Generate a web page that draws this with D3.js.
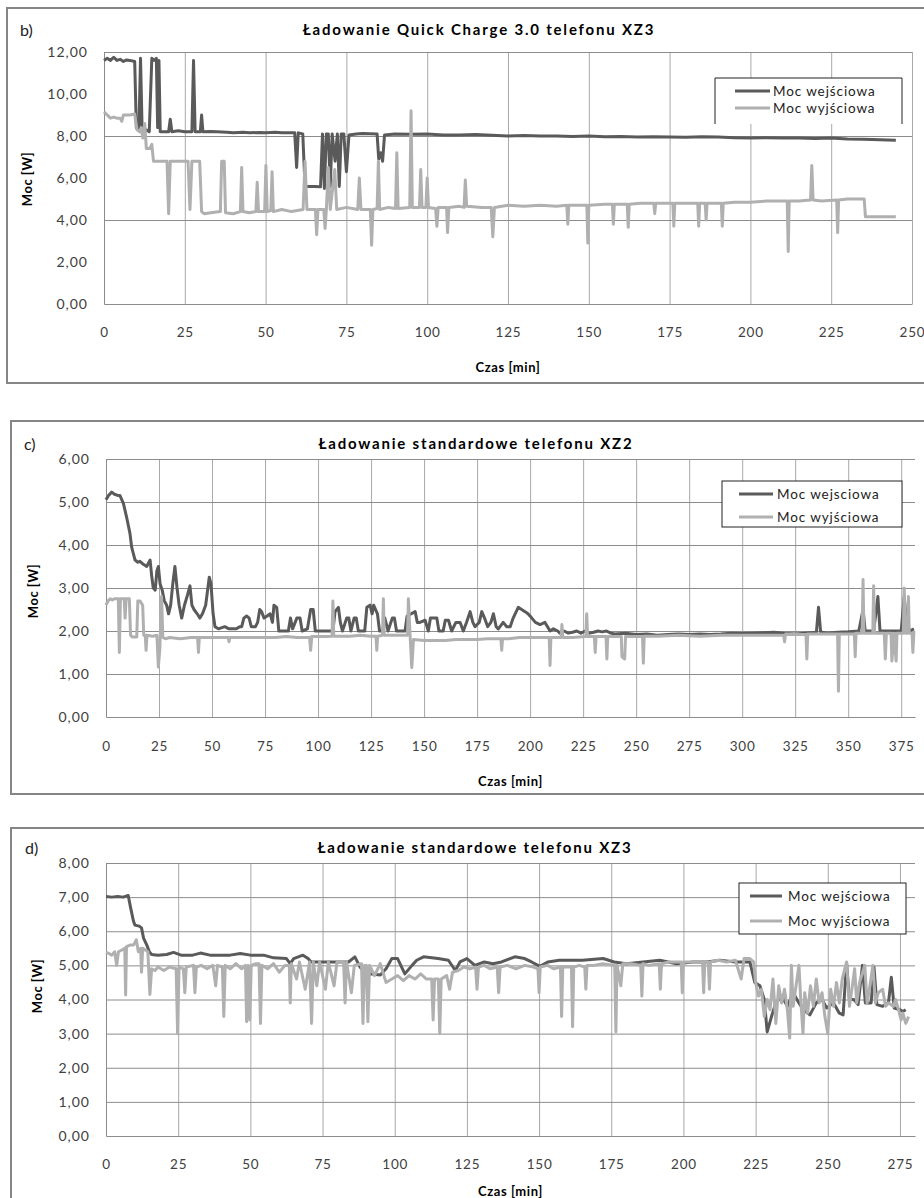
<!DOCTYPE html>
<html>
<head>
<meta charset="utf-8">
<script src="https://cdn.jsdelivr.net/npm/d3@7"></script>
<style>
  body { margin: 0; background: #fff; }
  svg { display: block; font-family: Lato, "Open Sans", sans-serif; }
</style>
</head>
<body>
<div id="chart"></div>
<script>
// Panel titles and legend labels
const titles = ["Ładowanie Quick Charge 3.0 telefonu XZ3",
                "Ładowanie standardowe telefonu XZ2",
                "Ładowanie standardowe telefonu XZ3"];
const letters = ["b)", "c)", "d)"];
const legendB = ["Moc wejściowa", "Moc wyjściowa"];
const legendC = ["Moc wejsciowa", "Moc wyjściowa"];
const legendD = ["Moc wejściowa", "Moc wyjściowa"];

// x ticks (min) and y ticks (W)
const bXTicks = [0, 25, 50, 75, 100, 125, 150, 175, 200, 225, 250];
const cXTicks = [0, 25, 50, 75, 100, 125, 150, 175, 200, 225, 250, 275, 300, 325, 350, 375];
const dXTicks = [0, 25, 50, 75, 100, 125, 150, 175, 200, 225, 250, 275];
const bYTicks = [0, 2, 4, 6, 8, 10, 12];
const cYTicks = [0, 1, 2, 3, 4, 5, 6];
const dYTicks = [0, 1, 2, 3, 4, 5, 6, 7, 8];

// b) Quick Charge XZ3 - [time min, power W]
const bIn = [[0,11.6],[1,11.7],[2,11.6],[3,11.75],[4,11.6],[5,11.65],[6,11.55],[7,11.62],[8,11.6],[9.5,11.55],[10,8.4],[10.8,8.3],[11.3,11.7],[11.8,8.3],[12.5,8.2],[13,8.3],[14,8.2],
  [14.8,11.7],[15.5,11.6],[16.2,11.7],[16.6,8.4],[17,11.6],[17.4,8.2],[18,8.2],[20,8.2],[20.5,8.8],[21,8.2],[23,8.25],[25,8.2],[27.2,8.2],[27.7,11.6],[28.2,8.2],[29.8,8.2],[30.2,9.0],[30.6,8.2],
  [33,8.22],[35,8.2],[38,8.18],[40,8.15],[43,8.18],[45,8.15],[48,8.17],[50,8.15],[53,8.18],[55,8.15],[59,8.15],[59.6,6.5],[60.1,8.15],[61.5,8.1],[62.2,5.6],[65,5.6],[67,5.58],
  [67.6,8.1],[68.2,5.5],[68.8,8.1],[69.4,8.1],[70,5.6],[70.6,8.1],[71.5,6.8],[72.2,8.1],[72.8,5.6],[73.4,8.1],[74.2,8.1],[75,6.3],[75.8,8.05],[78,8.1],[80,8.12],[84.5,8.1],
  [85,6.9],[85.6,7.2],[86.2,6.8],[86.8,8.05],[90,8.1],[95,8.08],[100,8.1],[105,8.05],[110,8.05],[115,8.07],[120,8.03],[125,8.0],[130,8.02],[135,8.0],[140,8.0],[145,7.98],
  [150,8.0],[155,7.97],[160,7.98],[165,7.95],[170,7.97],[175,7.95],[180,7.94],[185,7.96],[190,7.95],[195,7.92],[200,7.9],[205,7.92],[210,7.9],[215,7.9],[220,7.88],[225,7.9],
  [230,7.86],[235,7.85],[240,7.82],[245,7.8]];
const bOut = [[0,9.15],[1,9.0],[2,8.85],[3,8.9],[4,8.85],[5,8.85],[5.5,8.7],[6,9.0],[8,9.0],[9.5,9.05],[10.2,8.3],[11,8.2],[11.5,8.4],[12,7.9],[12.6,8.6],[13.1,7.4],[14.2,7.4],
  [14.8,7.6],[15.3,6.8],[19.5,6.8],[20,4.3],[20.5,6.8],[26,6.8],[26.6,4.5],[27.2,6.8],[29.6,6.8],[30.2,4.4],[31,4.3],[33,4.35],[36,4.4],[36.4,6.8],[37.2,6.8],[37.6,4.35],
  [40,4.3],[42.2,4.4],[42.6,6.5],[43,4.4],[45,4.35],[47,4.4],[47.4,5.8],[47.8,4.4],[49.7,4.4],[50.1,6.6],[50.5,4.4],[51.6,4.45],[52,6.3],[52.4,4.4],[55,4.5],[58,4.4],
  [61.6,4.5],[62.2,6.8],[62.8,4.5],[65.4,4.5],[65.8,3.3],[66.2,4.5],[68,4.5],[68.4,3.6],[68.8,4.5],[69.4,6.5],[70,4.5],[71.4,6.4],[72,4.5],[75,4.6],[78.5,4.5],[79,6.0],
  [79.5,4.5],[82.4,4.5],[82.8,2.8],[83.2,4.5],[84.5,4.55],[84.9,6.8],[85.3,4.5],[88,4.6],[90.2,4.55],[90.6,7.2],[91,4.55],[94.6,4.6],[95,9.2],[95.4,4.6],[97.6,4.6],[98,6.4],
  [98.4,4.6],[99.6,4.6],[100,6.0],[100.4,4.6],[102.6,4.55],[103,3.7],[103.4,4.6],[106,4.6],[106.3,3.4],[106.7,4.6],[110,4.65],[111.4,4.6],[111.8,5.9],[112.2,4.65],[117,4.6],
  [119.8,4.6],[120.3,3.2],[120.8,4.6],[125,4.7],[130,4.65],[135,4.7],[140,4.65],[143.2,4.7],[143.5,3.8],[143.8,4.7],[149.4,4.7],[149.7,2.9],[150,4.7],[155,4.75],[157.3,4.75],
  [157.6,3.8],[157.9,4.75],[161.9,4.75],[162.2,3.65],[162.5,4.75],[166,4.8],[170.1,4.8],[170.4,4.3],[170.7,4.8],[176,4.8],[176.3,3.7],[176.6,4.8],[183.7,4.8],[184,3.7],
  [184.3,4.8],[186,4.8],[186.3,4.0],[186.6,4.8],[191,4.8],[191.3,3.7],[191.6,4.8],[195,4.85],[200,4.85],[205,4.9],[211.4,4.9],[211.7,2.5],[212,4.9],[215,4.9],[218.6,4.95],
  [219,6.6],[219.4,4.95],[222,4.9],[226.7,4.95],[227,3.4],[227.3,4.95],[230,5.0],[235.2,5.0],[235.6,4.15],[240,4.15],[245,4.15]];

// c) standard XZ2
const cIn = [[0,5.05],[1.2,5.15],[2.7,5.23],[4,5.18],[5.8,5.15],[6.6,5.15],[8.2,4.97],[9.7,4.65],[11.3,4.27],[12.1,3.95],[13.7,3.65],[15,3.6],[16,3.62],[17.6,3.55],[19.2,3.5],
  [20.8,3.65],[21.5,3.3],[22.3,3.0],[23.2,2.95],[24,3.4],[24.7,3.5],[25.5,3.1],[26.5,2.95],[27.5,2.7],[28.6,2.6],[29.5,2.4],[30.5,2.6],[31.5,3.1],[32.5,3.5],[33.5,3.0],
  [34.5,2.6],[35.7,2.3],[37,2.6],[38.5,2.85],[39.6,3.05],[40.5,2.6],[41.5,2.5],[43,2.4],[44.3,2.3],[45.5,2.4],[47,2.6],[48.7,3.25],[49.5,3.1],[50.5,2.4],[51.4,2.1],[53,2.05],
  [56,2.1],[58,2.05],[61.5,2.05],[63,2.1],[64,2.1],[65,2.3],[66.3,2.35],[67.5,2.3],[68.5,2.1],[70.5,2.1],[71.5,2.2],[72.5,2.5],[73.4,2.45],[74.5,2.3],[76,2.35],[77.4,2.4],
  [78.5,2.2],[79.2,2.6],[80.5,2.55],[81.5,2.0],[84,2.0],[86,2.0],[87,2.3],[88,2.05],[90,2.3],[91.5,2.3],[92.5,2.0],[95,2.05],[96.5,2.5],[97.7,2.5],[98.7,2.0],[103,2.0],
  [107,2.0],[108,2.45],[109.6,2.55],[110.5,2.2],[111.5,2.0],[113.5,2.3],[114.5,2.3],[115.5,2.0],[117,2.3],[118,2.3],[119,2.0],[122,2.0],[123,2.55],[124.5,2.6],[125.5,2.4],
  [126.2,2.6],[128,2.4],[129,2.0],[130.5,2.0],[131.5,2.3],[133,2.0],[135,2.3],[136,2.3],[137,2.0],[141,2.0],[142,2.35],[145.8,2.45],[146.8,2.2],[148,2.2],[150.5,2.25],
  [152,2.0],[153,2.3],[156,2.3],[157,2.0],[159,2.0],[160,2.25],[161.5,2.25],[163,2.0],[165,2.2],[167,2.2],[168.5,2.0],[170,2.2],[171.7,2.45],[173,2.2],[174,2.1],[176,2.2],
  [177.2,2.45],[178.5,2.3],[180,2.1],[181.5,2.2],[182.7,2.4],[184,2.1],[185,2.05],[187.3,2.2],[189,2.1],[190.6,2.1],[192,2.3],[194.4,2.55],[196,2.5],[197.6,2.45],[199,2.4],
  [200.8,2.3],[202.5,2.2],[204.7,2.15],[207,2.2],[209.4,2.0],[211,2.05],[213,2.0],[214,1.95],[216,2.0],[218,1.95],[220,1.97],[222,2.0],[224,1.95],[226,2.0],[228,1.95],
  [230,1.97],[232,2.0],[234,1.98],[236,2.0],[238,1.95],[240,1.93],[245,1.95],[250,1.92],[255,1.93],[260,1.9],[265,1.92],[270,1.93],[275,1.92],[280,1.93],[285,1.92],
  [290,1.93],[295,1.95],[300,1.94],[305,1.95],[310,1.96],[315,1.97],[320,1.94],[325,1.93],[330,1.95],[335,1.97],[336,2.55],[337,1.98],[340,1.95],[345,1.97],[350,1.98],
  [355,2.0],[357,2.5],[358,2.0],[362,2.0],[364,2.8],[365,2.0],[370,2.0],[375,2.0],[376.4,2.8],[377.5,2.2],[379,2.0],[381,2.05]];
const cOut = [[0,2.6],[1,2.7],[2,2.75],[3,2.72],[4,2.75],[5.8,2.75],[6.3,1.5],[6.8,2.75],[8.6,2.75],[9,2.3],[9.5,2.75],[11,2.75],[11.6,1.9],[12.5,1.86],[14.5,1.86],[15,2.7],
  [16,2.7],[17.3,2.6],[17.8,1.9],[18.5,1.9],[18.9,1.55],[19.3,1.9],[22,1.88],[24,1.9],[24.7,1.16],[25.4,1.6],[26.2,2.8],[26.8,1.85],[28,1.82],[30,1.85],[35,1.82],[40,1.85],
  [43.2,1.85],[43.6,1.5],[44,1.85],[48,1.85],[52,1.85],[57.6,1.85],[58,1.75],[58.4,1.85],[62,1.85],[66,1.85],[70,1.85],[75,1.85],[80,1.85],[85,1.87],[90,1.85],[96,1.85],
  [96.5,1.55],[97,1.87],[100,1.87],[104,1.87],[106.6,1.88],[107,2.7],[107.4,1.88],[110,1.88],[115,1.88],[120,1.9],[125,1.88],[127.3,1.88],[127.7,1.55],[128.1,1.88],[130.4,1.9],
  [130.8,2.75],[131.2,1.9],[135,1.9],[140,1.9],[142.2,1.9],[142.6,2.75],[143.4,1.9],[144.2,1.15],[145,1.8],[150,1.78],[155,1.78],[160,1.78],[165,1.8],[170,1.8],[175,1.8],
  [180,1.82],[186.2,1.82],[186.6,1.55],[187,1.82],[190,1.82],[195,1.85],[200,1.85],[205,1.85],[209,1.85],[209.4,1.2],[209.8,1.85],[213,1.85],[214.6,1.85],[215,2.15],
  [215.4,1.85],[220,1.85],[226.3,1.87],[226.7,2.4],[227.1,1.87],[230.3,1.87],[230.7,1.5],[231.1,1.87],[235.8,1.87],[236.2,1.35],[236.6,1.87],[243,1.87],[243.3,1.4],
  [244.6,1.35],[245,1.87],[250,1.87],[253,1.87],[253.4,1.25],[253.8,1.88],[260,1.88],[270,1.9],[280,1.88],[290,1.9],[300,1.9],[310,1.9],[319.6,1.9],[320,1.75],[320.4,1.92],
  [325,1.92],[330.1,1.92],[330.5,1.35],[330.9,1.93],[335,1.93],[340,1.93],[345,1.93],[345.4,0.6],[345.8,1.93],[350,1.93],[352.9,1.93],[353.3,1.4],[353.7,1.95],[356.6,1.95],
  [357,3.2],[357.4,1.95],[361.6,1.95],[362,3.05],[362.4,1.95],[367,1.95],[367.5,1.35],[368,1.95],[370.2,1.95],[370.6,1.3],[371.6,1.95],[372.6,1.3],[373,1.95],[376,1.95],
  [376.4,3.0],[377,1.95],[378,1.95],[378.4,2.8],[378.8,1.95],[380.1,1.95],[380.5,1.5],[381,2.0]];

// d) standard XZ3
const dIn = [[0,7.02],[2,7.0],[4,7.02],[6,7.0],[7.7,7.05],[8.5,6.7],[9.5,6.3],[10,6.18],[11.5,6.15],[12.3,6.1],[13,5.8],[14.1,5.6],[15,5.4],[15.8,5.32],[18,5.3],[21,5.32],
  [23.4,5.38],[26,5.3],[30,5.3],[32.7,5.36],[36,5.3],[40,5.3],[43,5.3],[46.5,5.35],[50,5.3],[54.6,5.3],[58,5.22],[62.5,5.2],[63.8,5.05],[65,5.2],[68.2,5.3],[70,5.2],
  [71,5.1],[75,5.1],[80,5.1],[84,5.1],[86.2,5.25],[88,4.95],[90.3,4.75],[92,4.75],[95,4.72],[97,4.9],[99,5.2],[101,5.2],[103.5,4.75],[106,5.0],[107.6,5.15],[110,5.25],
  [115,5.2],[118.6,5.15],[121,4.85],[122.6,5.1],[125,5.2],[127.8,5.0],[131,5.1],[134,5.05],[137,5.1],[141.6,5.25],[145,5.2],[147.4,5.1],[150.3,4.97],[153,5.1],[157,5.15],
  [160.7,5.15],[165,5.15],[172.2,5.2],[176,5.1],[180.3,5.05],[186,5.1],[191.8,5.15],[197.6,5.05],[203.4,5.1],[208,5.1],[212.6,5.15],[218,5.1],[223,5.1],[224.7,4.5],
  [226.5,4.4],[228,4.0],[229,3.05],[230.5,3.5],[232,3.9],[234,4.1],[236,3.8],[238,4.2],[240,3.9],[241.5,3.7],[243.8,3.55],[246,3.9],[248,4.0],[249.6,3.75],[252,3.9],
  [254,3.6],[255.3,3.55],[256.5,5.07],[257.5,4.0],[259,4.0],[260.5,3.85],[262,5.0],[263,3.9],[265,3.9],[266,4.95],[267,3.85],[269,3.8],[271,3.9],[272,4.65],[273,3.75],
  [275,3.7],[276,3.65],[277,3.7]];
const dOut = [[0,5.38],[1,5.35],[2,5.3],[3,5.4],[3.7,5.0],[4.3,5.4],[5.5,5.45],[6.5,5.5],[6.8,4.13],[7.1,5.55],[8.5,5.6],[9.6,5.6],[10.5,5.75],[11.2,5.4],[12,5.5],[12.3,4.8],
  [12.7,5.5],[14.5,5.4],[15.2,4.15],[15.8,4.9],[17,4.85],[18,4.95],[20,4.85],[22,4.95],[24.3,4.9],[24.8,3.0],[25.3,4.95],[26.8,4.9],[27.3,4.2],[27.8,4.95],[30.3,5.0],
  [30.8,4.2],[31.3,4.95],[33,5.0],[35,4.9],[37,5.0],[38,4.4],[38.6,5.0],[40.3,4.95],[40.8,3.5],[41.3,5.0],[43,4.9],[45,5.05],[47,4.9],[48.3,5.0],[48.7,3.35],[49.3,5.0],
  [49.8,3.4],[50.3,5.0],[52,5.05],[53,5.05],[53.5,3.3],[54,5.0],[56,4.9],[58,5.05],[60,4.8],[62,5.0],[63.5,5.0],[63.8,3.9],[64.2,5.05],[66,4.6],[67,5.1],[69,4.3],[70.5,5.1],
  [71.2,3.3],[71.8,5.1],[73,4.4],[74,5.1],[76,4.3],[77,5.1],[79,4.4],[80,5.1],[82.3,5.1],[82.8,3.9],[83.3,5.1],[85,4.2],[86,5.0],[88.5,5.05],[89,3.3],[89.5,5.0],[90.2,5.0],
  [90.7,3.35],[91.3,5.0],[93,4.7],[95,5.05],[97,4.5],[99,4.6],[101,4.7],[103,4.55],[105,4.7],[107,4.6],[109,4.75],[111,4.6],[112.8,4.6],[113.3,3.4],[113.8,4.6],[115.1,4.6],
  [115.6,3.0],[116.1,4.6],[118,4.7],[119,4.3],[120,4.8],[122,4.85],[124,4.95],[126,4.9],[128,4.95],[128.5,4.3],[129,4.95],[131,5.0],[133,4.9],[135.5,4.95],[136,4.2],
  [136.5,4.95],[139,5.0],[142,4.9],[145,5.0],[148,4.95],[149.6,4.9],[150,4.2],[150.4,4.95],[153,5.0],[155,4.9],[157.4,4.95],[157.8,3.5],[158.2,4.95],[161.2,4.95],[161.6,3.2],
  [162,4.95],[164,5.0],[165.8,4.95],[166.2,4.3],[166.6,5.0],[169,5.0],[172,5.05],[176.2,5.0],[176.6,3.05],[177,5.0],[178.3,4.4],[179,5.05],[182,5.05],[185.2,5.0],[185.6,4.1],
  [186,5.05],[188,5.0],[191.6,5.05],[192,4.3],[192.4,5.05],[195,5.1],[199.2,5.1],[199.6,4.2],[200,5.1],[203,5.1],[206.6,5.1],[207,4.2],[207.4,5.1],[208.6,5.1],[209,4.3],
  [209.4,5.1],[212,5.15],[215,5.1],[218,5.15],[220,4.6],[221,5.2],[223,5.2],[224.3,5.1],[225,4.5],[226,4.1],[227,4.3],[228,3.5],[229,4.0],[230,3.7],[231,4.6],[232,3.3],
  [233,4.4],[234,3.9],[235,4.3],[236,3.7],[236.8,2.87],[237.4,5.0],[238,3.8],[239,4.4],[240,5.0],[240.7,3.9],[241.4,3.0],[242,4.2],[243,3.6],[244,4.4],[245,3.8],[246,4.6],
  [247,3.9],[248,4.2],[249,3.5],[250,3.0],[251,4.3],[252,3.8],[253,4.5],[254,3.9],[255,4.6],[256.5,5.1],[257.5,3.8],[258.5,4.4],[259.3,4.9],[260,3.9],[261,4.5],[262.8,5.0],
  [263.6,3.9],[264.6,4.4],[265.6,5.0],[266.5,3.9],[267.5,4.2],[269,4.3],[270,3.8],[271,3.9],[272.7,3.8],[273.5,4.0],[274.5,3.7],[275.4,3.4],[276,3.6],[277,3.3],[278,3.5]];

const darkColor = "#5a5a5a", lightColor = "#b0b0b0";
const fmt = d3.formatLocale({decimal: ",", thousands: " ", grouping: [3], currency: ["", ""]}).format(".2f");

const svg = d3.select("#chart").append("svg")
  .attr("width", 924).attr("height", 1198);

// layout of the three panels
const panels = [
  { frame: [7, 8, 980, 375], plot: [104, 52, 912, 304], xMax: 250, yMax: 12, gridStep: 4,
    xTicks: bXTicks, yTicks: bYTicks, series: [bIn, bOut], legend: legendB, title: titles[0], letter: letters[0],
    titleX: 479, titleY: 29, letterX: 20, yLabX: 27, yLabY: 179, xLabY: 332, czasY: 367,
    lg: { x: 715, y: 78, w: 187, h: 46, open: true, lineX: 735, lineW: 35, textX: 773, rows: [91, 108] } },
  { frame: [11, 421, 980, 373], plot: [106, 459, 915, 717], xMax: 381.5, yMax: 6, gridStep: 1,
    xTicks: cXTicks, yTicks: cYTicks, series: [cIn, cOut], legend: legendC, title: titles[1], letter: letters[1],
    titleX: 476, titleY: 443, letterX: 24, yLabX: 33, yLabY: 591, xLabY: 746, czasY: 781,
    lg: { x: 722, y: 481, w: 180, h: 46, open: false, lineX: 739, lineW: 34, textX: 777, rows: [494, 517] } },
  { frame: [11, 828, 980, 420], plot: [106, 863, 915, 1136], xMax: 280.2, yMax: 8, gridStep: 1,
    xTicks: dXTicks, yTicks: dYTicks, series: [dIn, dOut], legend: legendD, title: titles[2], letter: letters[2],
    titleX: 475, titleY: 847, letterX: 25, yLabX: 37, yLabY: 986, xLabY: 1164, czasY: 1191,
    lg: { x: 739, y: 883, w: 167, h: 51, open: false, lineX: 750, lineW: 32, textX: 788, rows: [896, 921] } }
];

panels.forEach(p => {
  const [fx, fy, fw, fh] = p.frame;
  const [l, t, r, b] = p.plot;

  svg.append("rect")
    .attr("x", fx).attr("y", fy).attr("width", fw).attr("height", fh)
    .attr("fill", "#fff").attr("stroke", "#858585").attr("stroke-width", 2);

  const x = d3.scaleLinear().domain([0, p.xMax]).range([l, r]);
  const y = d3.scaleLinear().domain([0, p.yMax]).range([b, t]);

  // vertical gridlines
  svg.append("g")
    .attr("transform", `translate(0,${b})`)
    .call(d3.axisBottom(x).tickValues(p.xTicks.slice(1)).tickSize(-(b - t)).tickFormat(""))
    .call(g => g.select(".domain").remove())
    .call(g => g.selectAll("line").attr("stroke", "#a8a8a8"));

  // horizontal gridlines
  svg.append("g")
    .attr("transform", `translate(${l},0)`)
    .call(d3.axisLeft(y).tickValues(p.yTicks.filter(v => v > 0 && v % p.gridStep === 0)).tickSize(-(r - l)).tickFormat(""))
    .call(g => g.select(".domain").remove())
    .call(g => g.selectAll("line").attr("stroke", "#8c8c8c"));

  // y axis labels
  svg.append("g")
    .attr("transform", `translate(${l},0)`)
    .call(d3.axisLeft(y).tickValues(p.yTicks).tickSize(0).tickPadding(16).tickFormat(fmt))
    .call(g => g.select(".domain").attr("stroke", "#8c8c8c"))
    .call(g => g.selectAll("text").attr("font-size", 14).attr("letter-spacing", 1).attr("fill", "#404040").attr("font-family", "Lato"));

  // x axis labels
  svg.append("g")
    .attr("transform", `translate(0,${b})`)
    .call(d3.axisBottom(x).tickValues(p.xTicks).tickSize(0).tickPadding(0).tickFormat(d3.format("d")))
    .call(g => g.select(".domain").attr("stroke", "#8c8c8c"))
    .call(g => g.selectAll("text").attr("dy", null).attr("y", p.xLabY - b)
      .attr("dominant-baseline", "central").attr("font-size", 13.5).attr("letter-spacing", 0.8)
      .attr("fill", "#404040").attr("font-family", "Lato"));

  // series: input (dark) first, output (light) on top
  const line = d3.line().x(d => x(d[0])).y(d => y(d[1]));
  [darkColor, lightColor].forEach((c, i) => {
    svg.append("path").datum(p.series[i])
      .attr("d", line).attr("fill", "none").attr("stroke", c)
      .attr("stroke-width", 3).attr("stroke-linejoin", "round");
  });

  // texts
  svg.append("text").attr("x", p.titleX).attr("y", p.titleY)
    .attr("text-anchor", "middle").attr("dominant-baseline", "central")
    .attr("font-size", 15).attr("font-weight", "bold").attr("letter-spacing", 1.8)
    .text(p.title);
  svg.append("text").attr("x", p.letterX).attr("y", p.titleY)
    .attr("dominant-baseline", "central").attr("font-size", 16).attr("fill", "#222")
    .text(p.letter);
  svg.append("text").attr("transform", `translate(${p.yLabX},${p.yLabY}) rotate(-90)`)
    .attr("text-anchor", "middle").attr("dominant-baseline", "central")
    .attr("font-size", 13).attr("font-weight", "bold").attr("letter-spacing", 0.5)
    .text("Moc [W]");
  svg.append("text").attr("x", (l + r) / 2).attr("y", p.czasY)
    .attr("text-anchor", "middle").attr("dominant-baseline", "central")
    .attr("font-size", 13).attr("font-weight", "bold").attr("letter-spacing", 0.6)
    .text("Czas [min]");

  // legend
  const lg = p.lg;
  const box = svg.append("g");
  if (lg.open) {
    box.append("path")
      .attr("d", `M${lg.x},${lg.y + lg.h}V${lg.y}H${lg.x + lg.w}V${lg.y + lg.h}`)
      .attr("fill", "#fff").attr("stroke", "#222").attr("stroke-width", 1);
  } else {
    box.append("rect").attr("x", lg.x).attr("y", lg.y).attr("width", lg.w).attr("height", lg.h)
      .attr("fill", "#fff").attr("stroke", "#222").attr("stroke-width", 1);
  }
  p.legend.forEach((name, i) => {
    box.append("line").attr("x1", lg.lineX).attr("x2", lg.lineX + lg.lineW)
      .attr("y1", lg.rows[i]).attr("y2", lg.rows[i])
      .attr("stroke", i === 0 ? darkColor : lightColor).attr("stroke-width", 3);
    box.append("text").attr("x", lg.textX).attr("y", lg.rows[i])
      .attr("dominant-baseline", "central").attr("font-size", 13.5).attr("letter-spacing", 0.9)
      .attr("fill", "#222").text(name);
  });
});
</script>
</body>
</html>
